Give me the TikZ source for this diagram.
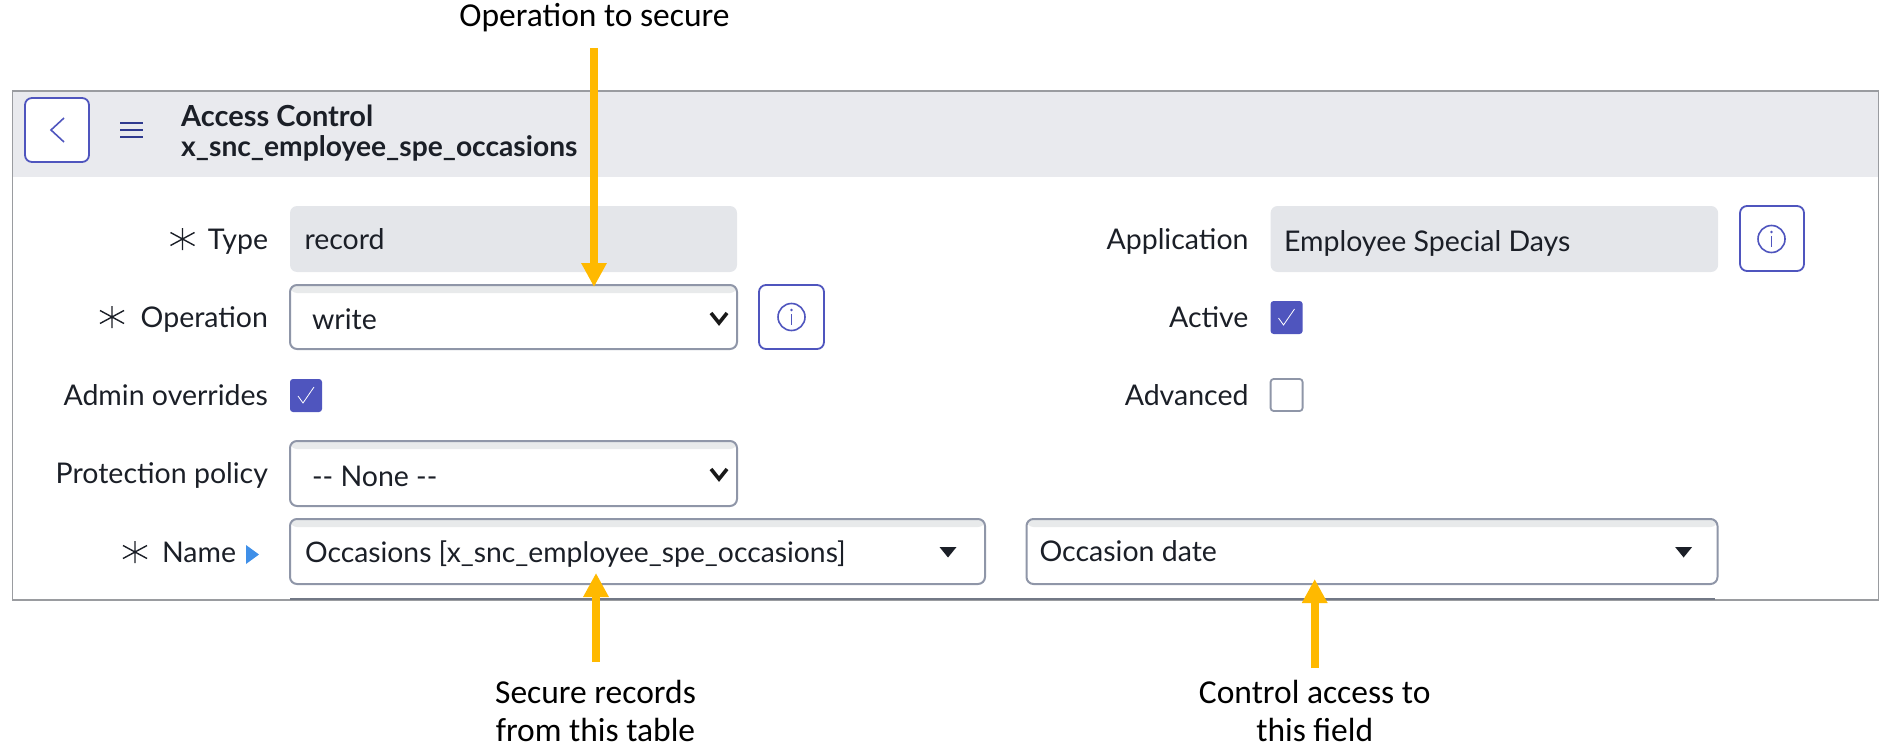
\documentclass[tikz,border=0pt]{standalone}
\usepackage{fontspec}
\setmainfont{Lato}
\newfontfamily\notefont{Carlito}
\usetikzlibrary{arrows.meta}
\definecolor{uitext}{HTML}{1B1F27}
\definecolor{framegray}{HTML}{9A9CA0}
\definecolor{headbg}{HTML}{E9EAEE}
\definecolor{roBg}{HTML}{E4E6EA}
\definecolor{selborder}{HTML}{8F96A8}
\definecolor{selstrip}{HTML}{E8EAEB}
\definecolor{indigo}{HTML}{4F55BE}
\definecolor{navy}{HTML}{2F3A8F}
\definecolor{callout}{HTML}{FFB900}
\definecolor{markerblue}{HTML}{3F8FE8}
\tikzset{
  x=1pt,y=-1pt,
  uilabel/.style={font=\fontsize{28.5}{34}\selectfont,text=uitext,inner sep=0pt,outer sep=0pt},
  fieldlabel/.style={uilabel,anchor=base east},
  fieldtext/.style={uilabel,anchor=base west},
  titletext/.style={text=uitext,inner sep=0pt,anchor=base west},
  notetext/.style={font=\notefont\fontsize{33.5}{38.5}\selectfont,text=black,inner sep=0pt,align=center,anchor=base},
  robox/.style={fill=roBg,rounded corners=7pt,inner sep=0pt,outer sep=0pt,anchor=north west},
  selbox/.style={draw=selborder,line width=2pt,fill=white,rounded corners=7pt,inner sep=0pt,outer sep=0pt,anchor=north west,
    path picture={\fill[selstrip] (path picture bounding box.north west) rectangle ([yshift=-8pt]path picture bounding box.north east);}},
  btnbox/.style={draw=indigo,line width=1.8pt,fill=white,rounded corners=7pt,inner sep=0pt,outer sep=0pt,anchor=north west},
  chkon/.style={fill=indigo,rounded corners=3pt,inner sep=0pt,outer sep=0pt,anchor=north west,minimum width=32pt,minimum height=33pt},
  chkoff/.style={draw=selborder,line width=1.8pt,fill=white,rounded corners=3pt,inner sep=0pt,outer sep=0pt,anchor=north west,minimum width=32pt,minimum height=32pt},
  calloutarrow/.style={draw=callout,line width=8pt,-{Triangle[length=24pt,width=24pt]}},
  reqmark/.pic={\draw[uitext,line width=1.4pt] (0,-11)--(0,11) (-12,-6.5)--(12,6.5) (-12,6.5)--(12,-6.5);},
  infomark/.pic={\draw[indigo,line width=1.6pt] (0,0) circle (13.5pt);
    \draw[indigo,line width=1.6pt] (0,-3)--(0,8); \fill[indigo] (0,-7) circle (1.4pt);},
  tickmark/.pic={\draw[white,line width=0.8pt] (-8,1)--(-3,8)--(8,-8);},
  downchevron/.pic={\draw[black!90,line width=3.6pt,line join=miter] (-8,-5)--(0,5)--(8,-5);},
  downtri/.pic={\fill[uitext] (-8.5,-5)--(8.5,-5)--(0,5.5)--cycle;},
}
\begin{document}
\begin{tikzpicture}
\useasboundingbox (0,0) rectangle (1886,754);
% frame and header
\fill[headbg] (12.5,91) rectangle (1878.6,177);
\draw[framegray,line width=1.3pt] (12.5,91) rectangle (1878.6,600);
% cut-off next field
\draw[selborder!80!black,line width=2.2pt] (290,599.2) -- (1714.7,599.2);
% back button
\node[btnbox,minimum width=64pt,minimum height=64pt] (back) at (25,98) {};
\draw[indigo,line width=1.6pt] (64,118)--(51,130)--(64,142);
% hamburger
\draw[navy,line width=2.2pt] (120,123)--(143,123) (120,130)--(143,130) (120,137)--(143,137);
% title
\node[titletext,font=\fontsize{29}{34}\selectfont\bfseries] (title1) at (181,126.5) {Access Control};
\node[titletext,font=\fontsize{28.2}{34}\selectfont\bfseries] (title2) at (181,157) {x\_snc\_employee\_spe\_occasions};
% row: type
\pic at (182.5,239) {reqmark};
\node[fieldlabel] (ltype) at (268,249) {Type};
\node[robox,minimum width=447pt,minimum height=66pt] (type) at (290,206) {};
\node[fieldtext] at (304.5,249) {record};
% row: application
\node[fieldlabel] (lapp) at (1248.5,249) {Application};
\node[robox,minimum width=447.5pt,minimum height=66pt] (app) at (1270.6,206) {};
\node[fieldtext] at (1284,251) {Employee Special Days};
\node[btnbox,minimum width=64pt,minimum height=65pt] (appinfo) at (1740,206) {};
\pic at (1771.5,239) {infomark};
% row: operation
\pic at (112,317) {reqmark};
\node[fieldlabel] (lop) at (268,327) {Operation};
\node[selbox,minimum width=447pt,minimum height=64pt] (op) at (290,285) {};
\node[fieldtext] at (312,329) {write};
\pic at (719,318) {downchevron};
\node[btnbox,minimum width=65pt,minimum height=64pt] (opinfo) at (759,285) {};
\pic at (791.5,317) {infomark};
% row: active
\node[fieldlabel] (lact) at (1248.5,327) {Active};
\node[chkon] (active) at (1270.6,301) {};
\pic at (1286.5,317) {tickmark};
% row: admin overrides
\node[fieldlabel] (ladm) at (268,405) {Admin overrides};
\node[chkon] (admin) at (290,379) {};
\pic at (306,395) {tickmark};
% row: advanced
\node[fieldlabel] (ladv) at (1248.5,405) {Advanced};
\node[chkoff] (adv) at (1270.6,379) {};
% row: protection
\node[fieldlabel] (lprot) at (268,483) {Protection policy};
\node[selbox,minimum width=447pt,minimum height=65pt] (prot) at (290,441) {};
\node[fieldtext] at (312,486) {-{}- None -{}-};
\pic at (719,474) {downchevron};
% row: name
\pic at (135,552) {reqmark};
\node[fieldlabel] (lname) at (236,562) {Name};
\fill[markerblue] (246,545)--(259,554.5)--(246,564)--cycle;
\node[selbox,minimum width=695pt,minimum height=65pt] (tbl) at (290,519) {};
\node[fieldtext,font=\fontsize{28.3}{34}\selectfont] at (305,562) {Occasions [x\_snc\_employee\_spe\_occasions]};
\pic at (948,552) {downtri};
\node[selbox,minimum width=691pt,minimum height=65pt] (fld) at (1026.5,519) {};
\node[fieldtext] at (1039.5,561) {Occasion date};
\pic at (1683.6,552) {downtri};
% callouts
\node[notetext] (n1) at (594.5,27) {Operation to secure};
\node[notetext] (n2) at (595.5,741.5) {Secure records\\from this table};
\node[notetext] (n3) at (1314.7,741.5) {Control access to\\this field};
\coordinate (a1s) at (594,48); \coordinate (a1e) at (594,287);
\coordinate (a2s) at (596,662); \coordinate (a2e) at (596,573);
\coordinate (a3s) at (1314.7,668); \coordinate (a3e) at (1314.7,579);
\draw[calloutarrow] (a1s) -- (a1e);
\draw[calloutarrow] (a2s) -- (a2e);
\draw[calloutarrow] (a3s) -- (a3e);
\end{tikzpicture}
\end{document}
